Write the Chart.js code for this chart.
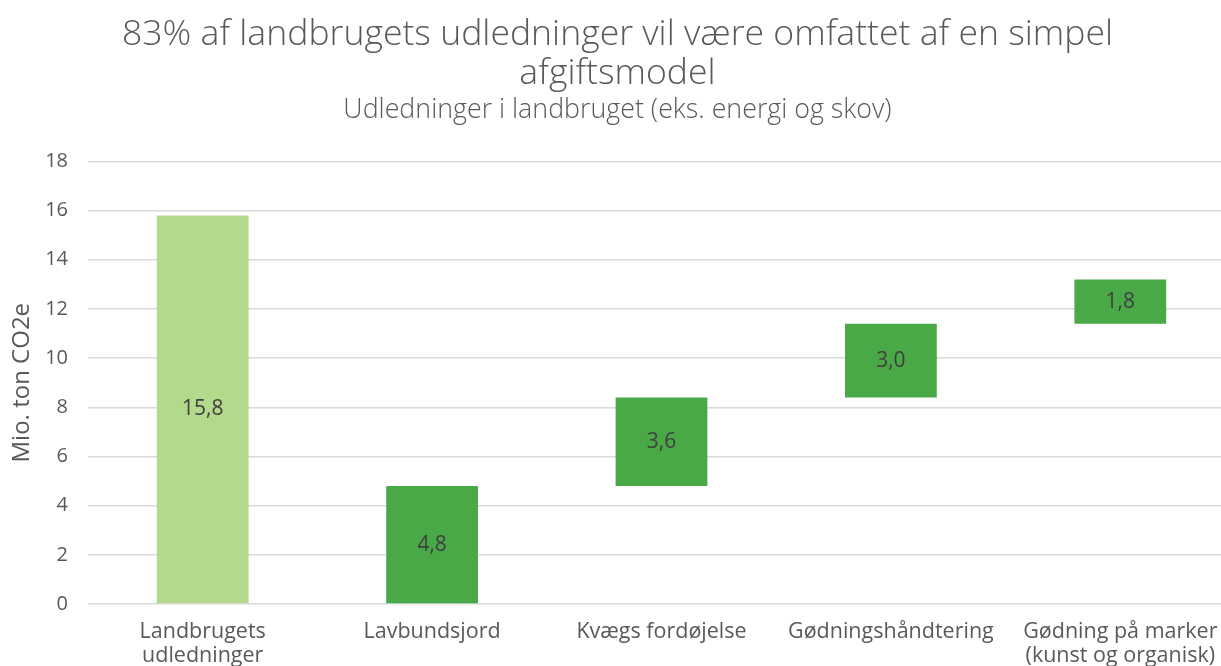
<!DOCTYPE html>
<html>
<head>
<meta charset="utf-8">
<script src="https://cdn.jsdelivr.net/npm/chart.js@4"></script>
<style>
    html, body { margin: 0; padding: 0; background: #fff; overflow: hidden; }
    #wrap { width: 1235px; height: 666px; }
</style>
</head>
<body>
<div id="wrap"><canvas id="chart"></canvas></div>
<script>
const categories = [
    ["Landbrugets", "udledninger"],
    "Lavbundsjord",
    "Kvægs fordøjelse",
    "Gødningshåndtering",
    ["Gødning på marker", "(kunst og organisk)"]
];
// first bar is the total, the rest stack up on each other
const values = [15.8, 4.8, 3.6, 3.0, 1.8];
const yTicks = { min: 0, max: 18, step: 2 };

const totalColor = '#b3d98c';
const partColor = '#4aa947';
const textColor = '#595959';

// floating bars for the waterfall
let running = 0;
const floating = values.map((v, i) => {
    if (i === 0) return [0, v];
    const bar = [running, running + v];
    running += v;
    return bar;
});

const barLabels = {
    id: 'barLabels',
    afterDatasetsDraw(chart) {
        const ctx = chart.ctx;
        const meta = chart.getDatasetMeta(0);
        ctx.save();
        ctx.font = '21px "Open Sans"';
        ctx.fillStyle = '#404040';
        ctx.textAlign = 'center';
        ctx.textBaseline = 'middle';
        meta.data.forEach((bar, i) => {
            const txt = values[i].toFixed(1).replace('.', ',');
            ctx.fillText(txt, bar.x, (bar.y + bar.base) / 2);
        });
        ctx.restore();
    }
};

const ctx = document.getElementById('chart').getContext('2d');
const myChart = new Chart(ctx, {
    type: 'bar',
    plugins: [barLabels],
    data: {
        labels: categories,
        datasets: [{
            data: floating,
            backgroundColor: values.map((v, i) => i === 0 ? totalColor : partColor),
            borderWidth: 0,
            categoryPercentage: 1.0,
            barPercentage: 0.4
        }]
    },
    options: {
        responsive: true,
        maintainAspectRatio: false,
        animation: false,
        layout: { padding: 0 },
        scales: {
            x: {
                grid: { display: false },
                border: { display: false },
                ticks: {
                    color: textColor,
                    font: { family: 'Open Sans', size: 21.5, lineHeight: 1.12 },
                    maxRotation: 0,
                    autoSkip: false,
                    padding: 8
                },
                afterFit(scale) { scale.height = 62; }
            },
            y: {
                min: yTicks.min,
                max: yTicks.max,
                border: { display: false },
                grid: {
                    color: '#d9d9d9',
                    lineWidth: 1.5,
                    drawTicks: false
                },
                ticks: {
                    stepSize: yTicks.step,
                    color: textColor,
                    font: { family: 'Open Sans', size: 20 },
                    padding: 20
                },
                title: {
                    display: true,
                    text: 'Mio. ton CO2e',
                    color: textColor,
                    font: { family: 'Open Sans', size: 24 },
                    padding: { top: 8, bottom: 0 }
                },
                afterFit(scale) { scale.width = 88; }
            }
        },
        plugins: {
            legend: { display: false },
            tooltip: { enabled: false },
            title: {
                display: true,
                text: ['83% af landbrugets udledninger vil være omfattet af en simpel', 'afgiftsmodel'],
                color: textColor,
                font: { family: 'Open Sans', size: 35.6, weight: '300', lineHeight: 1.08 },
                padding: { top: 16, bottom: 0 }
            },
            subtitle: {
                display: true,
                text: 'Udledninger i landbruget (eks. energi og skov)',
                color: textColor,
                font: { family: 'Open Sans', size: 26.8, weight: '300', lineHeight: 1.1 },
                padding: { top: 3, bottom: 36 }
            }
        }
    }
});
</script>
</body>
</html>
